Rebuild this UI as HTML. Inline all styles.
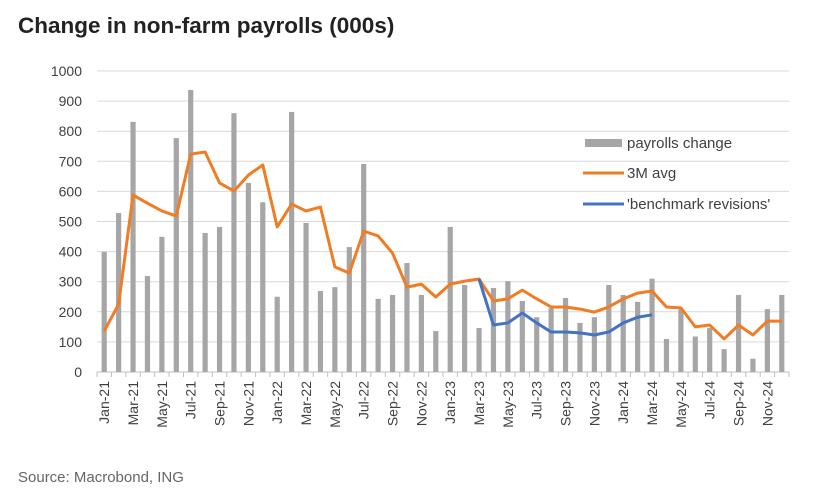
<!DOCTYPE html>
<html><head><meta charset="utf-8"><style>
body{margin:0;background:#fff;width:826px;height:497px;overflow:hidden;font-family:"Liberation Sans",sans-serif}
</style></head><body>
<svg id="s" width="826" height="497" xmlns="http://www.w3.org/2000/svg" font-family="Liberation Sans, sans-serif">
<text x="18" y="33" font-size="22.5" font-weight="bold" fill="#222">Change in non-farm payrolls (000s)</text>
<text x="18" y="482" font-size="15" fill="#666">Source: Macrobond, ING</text>
</svg>
<script>
const s=document.getElementById('s');const ns='http://www.w3.org/2000/svg';
function el(t,a,txt){const e=document.createElementNS(ns,t);for(const k in a)e.setAttribute(k,a[k]);if(txt)e.textContent=txt;s.appendChild(e);return e;}
const X0=97,X1=789,W=(X1-X0)/48;const Y=v=>372-v*0.301;const cx=i=>X0+W*(i+0.5);
for(let v=0;v<=1000;v+=100){el('line',{x1:X0,x2:X1,y1:Y(v),y2:Y(v),stroke:v?'#d9d9d9':'#bfbfbf','stroke-width':1});
el('text',{x:82,y:Y(v)+5,'text-anchor':'end','font-size':14,fill:'#404040'},String(v));}
for(let i=0;i<=48;i++){el('line',{x1:X0+W*i,x2:X0+W*i,y1:372,y2:377,stroke:'#bfbfbf'});}
const bars=[399,528,831,319,449,777,937,462,482,860,628,564,250,864,495,269,282,415,691,243,256,362,256,136,482,289,146,279,302,236,182,212,246,163,182,289,256,233,310,110,209,118,146,76,256,44,209,256];
bars.forEach((v,i)=>el('rect',{x:cx(i)-2.6,y:Y(v),width:5.2,height:v*0.301,fill:'#a6a6a6'}));
const avg=[136,225,588,561,535,518,724,731,628,601,654,688,482,558,535,548,349,329,468,452,395,282,292,249,292,302,309,236,243,272,243,216,216,209,199,216,243,262,269,216,213,150,156,110,156,123,169,169];
el('polyline',{points:avg.map((v,i)=>cx(i)+','+Y(v)).join(' '),fill:'none',stroke:'#f07c24','stroke-width':3,'stroke-linejoin':'round'});
const blue=[309,156,163,196,163,133,133,130,123,133,163,182,190];
el('polyline',{points:blue.map((v,i)=>cx(i+26)+','+Y(v)).join(' '),fill:'none',stroke:'#4472c4','stroke-width':3,'stroke-linejoin':'round'});
const m=['Jan','Mar','May','Jul','Sep','Nov'];
for(let i=0;i<48;i+=2){const yr=21+Math.floor(i/12);const t=m[(i%12)/2]+'-'+yr;const x=cx(i)+5;
el('text',{x:x,y:381,'text-anchor':'end','font-size':14,fill:'#404040',transform:`rotate(-90 ${x} 381)`},t);}
el('rect',{x:585,y:139,width:37,height:8,fill:'#a6a6a6'});
el('text',{x:627,y:148,'font-size':15,fill:'#404040'},'payrolls change');
el('line',{x1:583,x2:624,y1:173,y2:173,stroke:'#f07c24','stroke-width':3});
el('text',{x:627,y:178,'font-size':15,fill:'#404040'},'3M avg');
el('line',{x1:583,x2:624,y1:204,y2:204,stroke:'#4472c4','stroke-width':3});
el('text',{x:627,y:209,'font-size':15,fill:'#404040'},"'benchmark revisions'");
</script>
</body></html>
